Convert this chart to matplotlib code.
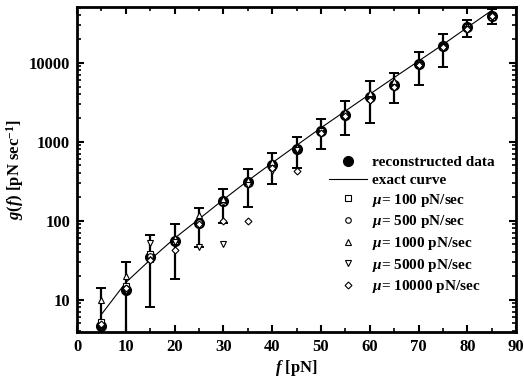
import numpy as np
import matplotlib
matplotlib.use("Agg")
from matplotlib import pyplot as plt
from matplotlib.ticker import MultipleLocator, LogLocator, NullFormatter

plt.rcParams['font.family'] = 'Liberation Serif'
plt.rcParams['font.weight'] = 'bold'
plt.rcParams['axes.labelweight'] = 'bold'
plt.rcParams['mathtext.fontset'] = 'custom'
plt.rcParams['mathtext.rm'] = 'Liberation Serif:bold'
plt.rcParams['mathtext.it'] = 'Liberation Serif:italic:bold'

# reconstructed data with error bars
force = [5, 10, 15, 20, 25, 30, 35, 40, 45, 50, 55, 60, 65, 70, 75, 80, 85]
g_rec = [4.7, 13.4, 35, 56, 94, 180, 310, 500, 820, 1380, 2200, 3700, 5300, 9700, 16300, 28000, 39000]
err_lo = [1.0, 3.0, 8, 18.5, 46, 94, 150, 293, 470, 800, 1200, 1720, 3100, 5300, 8900, 21000, 31000]
err_hi = [14, 30, 65, 91, 146, 254, 455, 710, 1150, 1950, 3250, 5800, 7400, 13800, 23400, 35000, 48000]

# exact curve
g_exact = [6.5, 16.5, 32, 60, 105, 185, 320, 540, 900, 1500, 2450, 4000, 6500, 10500, 17000, 28000, 46000]

# individual loading rates
g_100 = [5.2, 15, 38, 55, 92, 175, 300, 480, 800, 1400, 2200, 3600, 5200, 9600, 16000, 28000, 38000]
g_500 = [4.8, 14, 36, 57, 96, 178, 305, 490, 810, 1380, 2150, 3500, 5400, 9800, 16500, 27500, 39000]
g_1000 = [10, 20, 33, 60, 117, 190, 330, 560, 860, 1450, 2400, 4200, 5800, 10000, 17000, 29000, 40000]
g_5000 = [4.6, 13, 52, 54, 47, 50, 280, 420, 780, 1350, 2000, 3300, 4800, 9500, 15500, 27000, 38500]
g_10000 = [4.9, 14, 32, 42, 90, 100, 100, 470, 420, 1300, 2100, 3400, 5000, 9400, 16000, 27000, 39000]

fig = plt.figure(figsize=(5.24, 3.82), dpi=100)
ax = fig.add_axes([0.147, 0.131, 0.838, 0.851])

yerr = [np.array(g_rec) - np.array(err_lo), np.array(err_hi) - np.array(g_rec)]
ax.errorbar(force, g_rec, yerr=yerr, fmt='none', ecolor='black', elinewidth=1.6,
            capsize=3.4, capthick=1.4, zorder=3)
ax.plot(force, g_rec, 'o', color='black', ms=7, zorder=4, label='reconstructed data')
ax.plot(force, g_exact, '-', color='black', lw=0.8, zorder=2, label='exact curve')

small = dict(ls='none', mfc='white', mec='black', mew=0.8, ms=4, zorder=5)
ax.plot(force, g_100, marker='s', label=r'$\mu$= 100 pN/sec', **small)
ax.plot(force, g_500, marker='o', label=r'$\mu$= 500 pN/sec', **small)
ax.plot(force, g_1000, marker='^', label=r'$\mu$= 1000 pN/sec', **small)
ax.plot(force, g_5000, marker='v', label=r'$\mu$= 5000 pN/sec', **small)
ax.plot(force, g_10000, marker='D', label=r'$\mu$= 10000 pN/sec',
        **dict(small, ms=3.5))

ax.set_yscale('log')
ax.set_xlim(0, 90)
ax.set_ylim(3.9, 51000)
ax.xaxis.set_major_locator(MultipleLocator(10))
ax.xaxis.set_minor_locator(MultipleLocator(5))
ax.yaxis.set_minor_locator(LogLocator(base=10, subs=np.arange(2, 10), numticks=20))
ax.yaxis.set_minor_formatter(NullFormatter())
ax.set_yticks([10, 100, 1000, 10000])
ax.set_yticklabels(['10', '100', '1000', '10000'])

ax.tick_params(which='both', direction='in', top=True, right=True, labelsize=12)
ax.tick_params(which='major', length=5, width=1.5, pad=5)
ax.tick_params(which='minor', length=3, width=1.2)
for s in ax.spines.values():
    s.set_linewidth(2)

ax.set_xlabel(r'$f$ [pN]', fontsize=12, labelpad=2)
ax.set_ylabel(r'$g(f)$ [pN sec$^{-1}$]', fontsize=12, labelpad=2)

ax.legend(loc='upper left', bbox_to_anchor=(0.557, 0.567), frameon=False, fontsize=11,
          handlelength=2.5, handletextpad=0.3, labelspacing=0.3, borderpad=0)

fig.savefig('out.png', dpi=100)
